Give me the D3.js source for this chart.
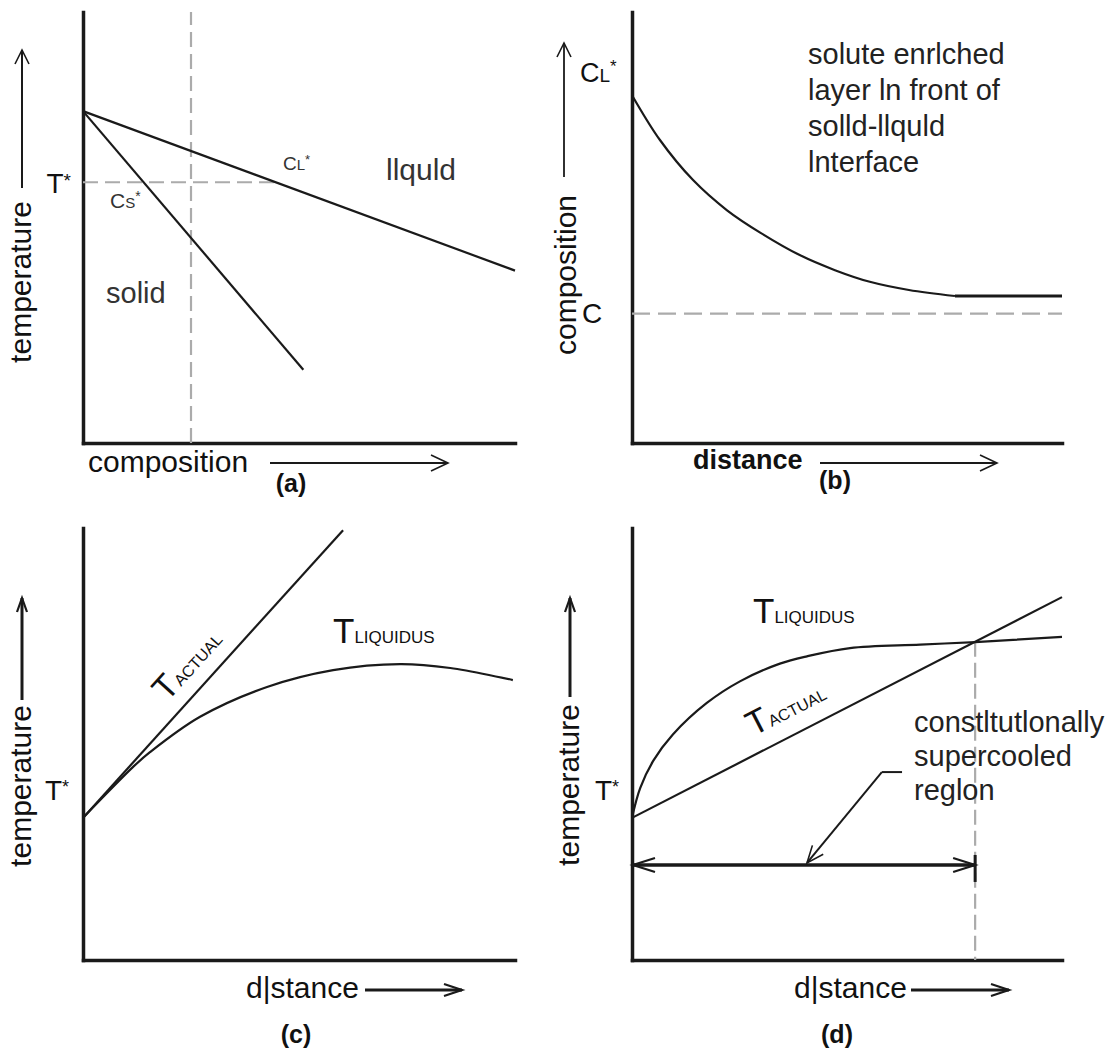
<!DOCTYPE html>
<html>
<head>
<meta charset="utf-8">
<title>Solidification and constitutional supercooling</title>
<script src="https://d3js.org/d3.v7.min.js"></script>
<style>
  body { margin: 0; background: #fff; }
  text { font-family: 'Liberation Sans', Arial, Helvetica, sans-serif; }
</style>
</head>
<body>
<div id="chart"></div>
<script>
// every panel uses 0-10 units on both axes

// (a) temperature vs composition
var aLiquidus = [[0, 7.7], [10, 4.0]];
var aSolidus = [[0, 7.7], [5.1, 1.7]];
var aTStar = 6.05;
var aComp = 2.5;

// (b) composition vs distance
var bDistance = [0, 0.65, 1.42, 2.21, 3.0, 3.9, 4.72, 5.53, 6.44, 7.51];
var bComposition = [8.07, 7.03, 6.10, 5.40, 4.87, 4.36, 4.01, 3.74, 3.55, 3.41];
var bFar = [[7.51, 3.41], [10, 3.41]];
var bC0 = 3.0;

// (c) temperature vs distance, no supercooling
var cDistance = [0, 0.63, 1.16, 1.55, 2.71, 4.26, 5.79, 7.34, 8.5, 9.95];
var cLiquidus = [3.29, 3.94, 4.47, 4.81, 5.63, 6.32, 6.71, 6.85, 6.76, 6.48];
var cActual = [[0, 3.29], [6.02, 9.95]];

// (d) temperature vs distance, supercooled region
var dDistance = [0, 0.19, 0.5, 0.95, 1.74, 2.51, 3.44, 4.07, 5.07, 6.7, 7.98, 10];
var dLiquidus = [3.29, 3.98, 4.62, 5.22, 5.95, 6.45, 6.86, 7.03, 7.22, 7.30, 7.36, 7.48];
var dActual = [[0, 3.29], [10, 8.40]];
var dCross = 7.98;
var dRegion = 2.2;

var ink = "#1a1a1a";
var grey = "#ababab";
var smooth = d3.curveCatmullRom.alpha(0.5);

var svg = d3.select("#chart")
    .append("svg")
    .attr("width", 1115)
    .attr("height", 1051);

function makePanel(x0, x1, yTop, yBot) {
    var x = d3.scaleLinear().domain([0, 10]).range([x0, x1]);
    var y = d3.scaleLinear().domain([0, 10]).range([yBot, yTop]);
    var g = svg.append("g");
    g.append("g")
        .attr("transform", "translate(0," + yBot + ")")
        .call(d3.axisBottom(x).tickValues([]).tickSizeOuter(0));
    g.append("g")
        .attr("transform", "translate(" + x0 + ",0)")
        .call(d3.axisLeft(y).tickValues([]).tickSizeOuter(0));
    g.selectAll(".domain")
        .attr("stroke", ink)
        .attr("stroke-width", 3.5)
        .attr("stroke-linecap", "square");
    var line = d3.line().x(function(d) { return x(d[0]); }).y(function(d) { return y(d[1]); });
    return { g: g, x: x, y: y, line: line };
}

function path(p, pts, width, curve) {
    var gen = p.line.curve(curve || d3.curveLinear);
    return p.g.append("path")
        .attr("d", gen(pts))
        .attr("fill", "none")
        .attr("stroke", ink)
        .attr("stroke-width", width || 2.2);
}

function dashed(g, x1, y1, x2, y2, dash) {
    g.append("line")
        .attr("x1", x1).attr("y1", y1).attr("x2", x2).attr("y2", y2)
        .attr("stroke", grey)
        .attr("stroke-width", 2.2)
        .attr("stroke-dasharray", dash || "15,7");
}

function arrow(g, x1, y1, x2, y2, w, L, W) {
    g.append("line")
        .attr("x1", x1).attr("y1", y1).attr("x2", x2).attr("y2", y2)
        .attr("stroke", ink).attr("stroke-width", w);
    var a = Math.atan2(y2 - y1, x2 - x1);
    var p1 = [x2 - L * Math.cos(a) + W * Math.sin(a), y2 - L * Math.sin(a) - W * Math.cos(a)];
    var p2 = [x2 - L * Math.cos(a) - W * Math.sin(a), y2 - L * Math.sin(a) + W * Math.cos(a)];
    g.append("path")
        .attr("d", "M" + p1 + "L" + x2 + "," + y2 + "L" + p2)
        .attr("fill", "none")
        .attr("stroke", ink)
        .attr("stroke-width", Math.max(1.6, w - 0.8));
}

function label(g, px, py, parts, opts) {
    opts = opts || {};
    var t = g.append("text")
        .attr("x", px).attr("y", py)
        .attr("text-anchor", opts.anchor || "start")
        .attr("fill", opts.fill || "#111");
    if (opts.weight) t.attr("font-weight", opts.weight);
    parts.forEach(function(p) {
        t.append("tspan").attr("font-size", p[1]).attr("dy", p[2] || 0).text(p[0]);
    });
    return t;
}

function vLabel(g, cx, cy, txt) {
    g.append("text")
        .attr("transform", "translate(" + cx + "," + cy + ") rotate(-90)")
        .attr("text-anchor", "middle")
        .attr("font-size", 30)
        .attr("fill", "#111")
        .text(txt);
}

function alongLabel(p, seg, t, off, parts) {
    var A = [p.x(seg[0][0]), p.y(seg[0][1])], B = [p.x(seg[1][0]), p.y(seg[1][1])];
    var len = Math.hypot(B[0] - A[0], B[1] - A[1]);
    var u = [(B[0] - A[0]) / len, (B[1] - A[1]) / len];
    var n = [u[1], -u[0]];
    var sx = A[0] + t * u[0] + off * n[0];
    var sy = A[1] + t * u[1] + off * n[1];
    var ang = Math.atan2(u[1], u[0]) * 180 / Math.PI;
    var txt = p.g.append("text")
        .attr("transform", "translate(" + sx + "," + sy + ") rotate(" + ang + ")")
        .attr("fill", "#111");
    parts.forEach(function(q) {
        txt.append("tspan").attr("font-size", q[1]).text(q[0]);
    });
}

// ---------- (a) ----------
var pa = makePanel(83, 515, 12, 443);
var liqAt = d3.scaleLinear()
    .domain([aLiquidus[0][1], aLiquidus[1][1]])
    .range([aLiquidus[0][0], aLiquidus[1][0]]);
dashed(pa.g, pa.x(0), pa.y(aTStar), pa.x(liqAt(aTStar)), pa.y(aTStar));
dashed(pa.g, pa.x(aComp), pa.y(0), pa.x(aComp), pa.y(10));
path(pa, aLiquidus);
path(pa, aSolidus);
label(pa.g, 71, 193, [["T", 28], ["*", 19, -6]], { anchor: "end" });
label(pa.g, 110, 208, [["C", 21], ["S", 15], ["*", 14, -7]], { fill: "#333" });
label(pa.g, 283, 170, [["C", 19], ["L", 15], ["*", 13, -6]], { fill: "#333" });
label(pa.g, 386, 180, [["llquld", 30]], { fill: "#333" });
label(pa.g, 106, 303, [["solid", 29]], { fill: "#333" });
vLabel(pa.g, 31, 282, "temperature");
arrow(pa.g, 22, 188, 22, 50, 2, 14, 7);
label(pa.g, 88, 472, [["composition", 30]]);
arrow(pa.g, 270, 463, 448, 463, 2, 17, 8);
label(pa.g, 291, 492, [["(a)", 25]], { anchor: "middle", weight: "bold" });

// ---------- (b) ----------
var pb = makePanel(632, 1062, 12, 443);
dashed(pb.g, pb.x(0), pb.y(bC0), pb.x(10), pb.y(bC0), "18,8");
path(pb, bDistance.map(function(d, i) { return [d, bComposition[i]]; }), 2.2, smooth);
path(pb, bFar, 3);
label(pb.g, 580, 82, [["C", 27], ["L", 19], ["*", 17, -10]]);
label(pb.g, 582, 323, [["C", 28]]);
vLabel(pb.g, 576, 275, "composition");
arrow(pb.g, 564, 177, 564, 43, 1.8, 14, 7);
["solute enrlched", "layer ln front of", "solld-llquld", "lnterface"].forEach(function(s, i) {
    label(pb.g, 808, 64 + i * 36, [[s, 29]], { fill: "#222" });
});
label(pb.g, 693, 469, [["distance", 27]], { weight: "bold" });
arrow(pb.g, 820, 463, 997, 463, 2, 17, 8);
label(pb.g, 835, 489, [["(b)", 25]], { anchor: "middle", weight: "bold" });

// ---------- (c) ----------
var pc = makePanel(83, 515, 528, 960);
path(pc, cActual);
path(pc, cDistance.map(function(d, i) { return [d, cLiquidus[i]]; }), 2.2, smooth);
alongLabel(pc, cActual, 142, 15, [["T", 34], ["ACTUAL", 16]]);
label(pc.g, 333, 643, [["T", 35], ["LIQUIDUS", 17]]);
label(pc.g, 69, 800, [["T", 28], ["*", 18, -7]], { anchor: "end" });
vLabel(pc.g, 31, 786, "temperature");
arrow(pc.g, 22, 700, 22, 598, 3, 14, 5);
label(pc.g, 246, 998, [["d|stance", 30]]);
arrow(pc.g, 365, 990, 462, 990, 3, 18, 6);
label(pc.g, 296, 1043, [["(c)", 25]], { anchor: "middle", weight: "bold" });

// ---------- (d) ----------
var pd = makePanel(632, 1062, 528, 960);
var actAt = d3.scaleLinear()
    .domain([dActual[0][0], dActual[1][0]])
    .range([dActual[0][1], dActual[1][1]]);
dashed(pd.g, pd.x(dCross), pd.y(actAt(dCross)), pd.x(dCross), pd.y(0), "15,6");
path(pd, dActual);
path(pd, dDistance.map(function(d, i) { return [d, dLiquidus[i]]; }), 2.2, smooth);
// supercooled region span
var ry = pd.y(dRegion);
arrow(pd.g, pd.x(dCross), ry, pd.x(0) + 1, ry, 3, 22, 7);
arrow(pd.g, pd.x(0), ry, pd.x(dCross), ry, 3, 22, 7);
pd.g.append("line")
    .attr("x1", pd.x(dCross)).attr("x2", pd.x(dCross))
    .attr("y1", ry - 10).attr("y2", ry + 17)
    .attr("stroke", ink).attr("stroke-width", 3);
// pointer to the region
pd.g.append("path")
    .attr("d", "M" + pd.x(6.28) + "," + pd.y(4.35) + "H" + pd.x(5.81))
    .attr("fill", "none").attr("stroke", ink).attr("stroke-width", 2);
arrow(pd.g, pd.x(5.81), pd.y(4.35), pd.x(4.07), ry - 2, 2, 17, 7);
alongLabel(pd, dActual, 145, 17, [["T", 34], ["ACTUAL", 16]]);
label(pd.g, 753, 623, [["T", 35], ["LIQUIDUS", 17]]);
label(pd.g, 619, 800, [["T", 28], ["*", 18, -7]], { anchor: "end" });
vLabel(pd.g, 579, 785, "temperature");
arrow(pd.g, 570, 697, 570, 598, 3, 14, 5);
["constltutlonally", "supercooled", "reglon"].forEach(function(s, i) {
    label(pd.g, 914, 732 + i * 34, [[s, 29]], { fill: "#222" });
});
label(pd.g, 794, 998, [["d|stance", 30]]);
arrow(pd.g, 911, 990, 1009, 990, 3, 18, 6);
label(pd.g, 837, 1043, [["(d)", 25]], { anchor: "middle", weight: "bold" });
</script>
</body>
</html>
